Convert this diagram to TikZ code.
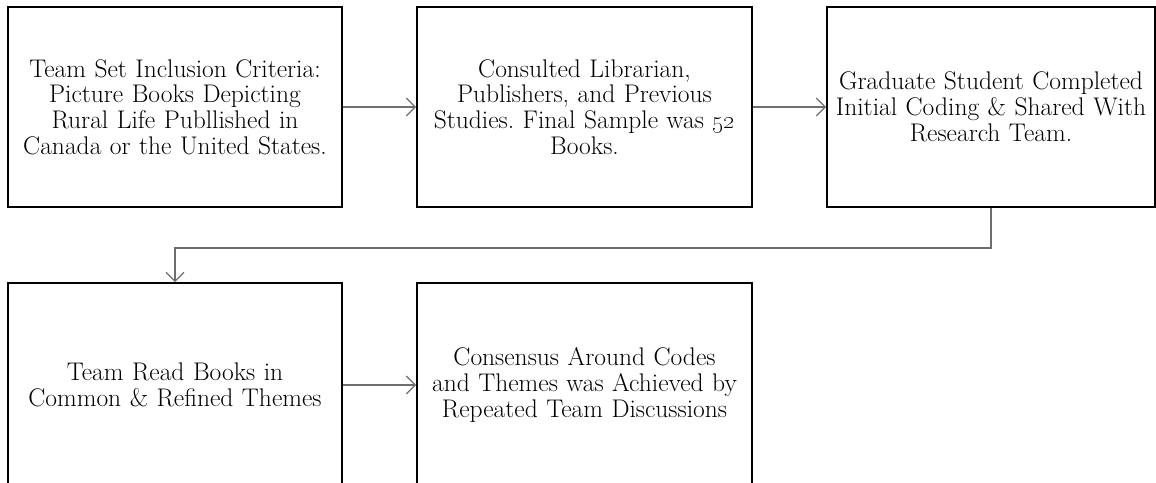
\documentclass[tikz,border=0pt]{standalone}
\usetikzlibrary{arrows.meta}
\definecolor{conngray}{RGB}{110,110,110}
\frenchspacing
\begin{document}
\begin{tikzpicture}[x=1pt,y=-1pt,
  box/.style={draw=black, line width=1.8pt, fill=white, inner sep=0pt,
    minimum height=200pt, align=center, text width=325pt,
    font=\fontsize{25.5}{25.8}\selectfont},
  conn/.style={draw=conngray, line width=1.2pt,
    -{Straight Barb[length=9pt,width=18pt,line width=1.2pt]}}]
\useasboundingbox (0,0) rectangle (1156,482);
\clip (0,0) rectangle (1156,482);
\node[box, minimum width=334pt] (b1) at (175,107)
  {Team Set Inclusion Criteria:\\Picture Books Depicting\\Rural Life Publlished in\\Canada or the United States.};
\node[box, minimum width=335pt] (b2) at (584.5,107)
  {Consulted Librarian,\\Publishers, and Previous\\Studies. Final Sample was \oldstylenums{52}\\Books.};
\node[box, minimum width=328pt] (b3) at (991,107)
  {Graduate Student Completed\\Initial Coding \& Shared With\\Research Team.};
\node[box, minimum width=334pt, minimum height=204pt] (b4) at (175,385)
  {Team Read Books in\\Common \& Refined Themes};
\node[box, minimum width=335pt, minimum height=204pt] (b5) at (584.5,385)
  {Consensus Around Codes\\and Themes was Achieved by\\Repeated Team Discussions};
\coordinate (turn) at ([yshift=-40pt]b3.south);
\draw[conn] (b1) -- (b2);
\draw[conn] (b2) -- (b3);
\draw[conn] (b3.south) -- (turn) -| (b4.north);
\draw[conn] (b4) -- (b5);
\end{tikzpicture}
\end{document}
